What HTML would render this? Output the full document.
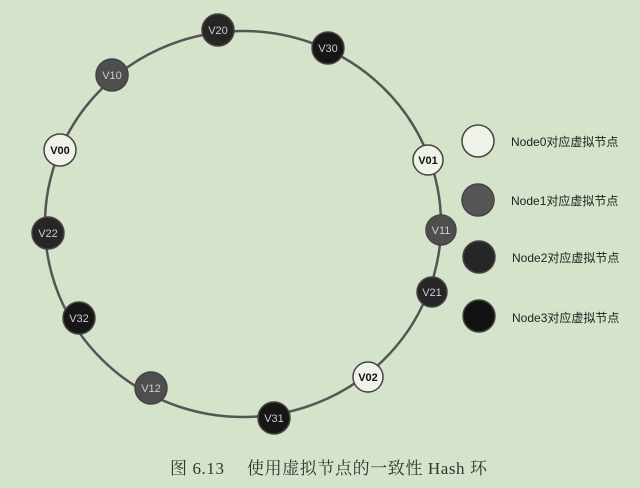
<!DOCTYPE html>
<html><head><meta charset="utf-8"><style>
html,body{margin:0;padding:0;background:#d4e3c9;}
svg{display:block}
</style></head><body>
<svg width="640" height="488" xmlns="http://www.w3.org/2000/svg">
<rect width="640" height="488" fill="#d4e3c9"/>
<ellipse cx="243" cy="224" rx="198" ry="193" fill="none" stroke="#555" stroke-width="2.5"/>
<g font-family="Liberation Sans, sans-serif" font-size="11" text-anchor="middle">
<g stroke="#444" stroke-width="1.5">
<circle cx="218" cy="30" r="16" fill="#262626"/>
<circle cx="328" cy="48" r="16" fill="#161616"/>
<circle cx="112" cy="75" r="16" fill="#4e4e4e"/>
<circle cx="60" cy="150" r="16" fill="#eef2e8"/>
<circle cx="428" cy="160" r="15" fill="#eef2e8"/>
<circle cx="441" cy="230" r="15" fill="#4e4e4e"/>
<circle cx="48" cy="233" r="16" fill="#262626"/>
<circle cx="432" cy="292" r="15" fill="#262626"/>
<circle cx="79" cy="318" r="16" fill="#161616"/>
<circle cx="368" cy="377" r="15" fill="#eef2e8"/>
<circle cx="151" cy="388" r="16" fill="#4e4e4e"/>
<circle cx="274" cy="418" r="16" fill="#161616"/>
</g>
<text x="218" y="34" fill="#ccc">V20</text>
<text x="328" y="52" fill="#ccc">V30</text>
<text x="112" y="79" fill="#ccc">V10</text>
<text x="60" y="154" fill="#111" font-weight="bold">V00</text>
<text x="428" y="164" fill="#111" font-weight="bold">V01</text>
<text x="441" y="234" fill="#ccc">V11</text>
<text x="48" y="237" fill="#ccc">V22</text>
<text x="432" y="296" fill="#ccc">V21</text>
<text x="79" y="322" fill="#ccc">V32</text>
<text x="368" y="381" fill="#111" font-weight="bold">V02</text>
<text x="151" y="392" fill="#ccc">V12</text>
<text x="274" y="422" fill="#ccc">V31</text>
</g>
<g stroke="#444" stroke-width="1.5">
<circle cx="478" cy="141" r="16" fill="#eef2e8"/>
<circle cx="478" cy="200" r="16" fill="#555"/>
<circle cx="479" cy="257" r="16" fill="#262626"/>
<circle cx="479" cy="316" r="16" fill="#111"/>
</g>
<g font-family="Liberation Sans, 'Noto Sans CJK SC', sans-serif" font-size="12" fill="#222">
<text x="511" y="146">Node0对应虚拟节点</text>
<text x="511" y="205">Node1对应虚拟节点</text>
<text x="512" y="262">Node2对应虚拟节点</text>
<text x="512" y="322">Node3对应虚拟节点</text>
</g>
<text x="170" y="474" font-family="Liberation Serif, 'Noto Serif CJK SC', serif" font-size="17" fill="#333" textLength="317" lengthAdjust="spacing">图 6.13　 使用虚拟节点的一致性 Hash 环</text>
</svg>
</body></html>
